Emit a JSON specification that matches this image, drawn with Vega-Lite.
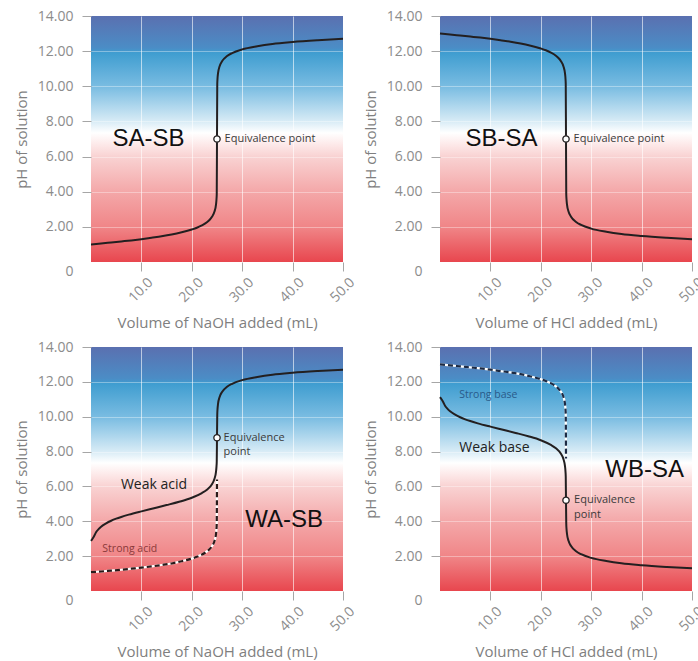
{
"$schema": "https://vega.github.io/schema/vega-lite/v6.json",
"padding": {"left": 14, "top": 9, "right": 0, "bottom": 0},
"background": "white",
"config": {
  "view": {"stroke": null, "fill": {"gradient": "linear", "x1": 0, "y1": 0, "x2": 0, "y2": 1, "stops": [
    {"offset": 0, "color": "#5a70b0"},
    {"offset": 0.13, "color": "#4b8dc6"},
    {"offset": 0.15, "color": "#3f9dd0"},
    {"offset": 0.29, "color": "#7bbde2"},
    {"offset": 0.43, "color": "#d9ecf6"},
    {"offset": 0.475, "color": "#ffffff"},
    {"offset": 0.52, "color": "#fdeaea"},
    {"offset": 0.57, "color": "#f9d3d3"},
    {"offset": 0.71, "color": "#f4a9aa"},
    {"offset": 0.86, "color": "#f08587"},
    {"offset": 1, "color": "#e8464e"}]}},
  "axis": {"labelFont": "Open Sans", "titleFont": "Open Sans", "labelColor": "#8c8c8c", "titleColor": "#7f7f7f", "labelFontSize": 14, "titleFontSize": 15, "titleFontWeight": "normal", "domain": false, "tickColor": "#a6a6a6", "tickSize": 9, "grid": true, "gridColor": "#ffffff", "gridOpacity": 0.6, "gridWidth": 1},
  "axisX": {"format": ".1f", "labelAngle": -45, "labelAlign": "right", "labelBaseline": "middle", "labelOffset": 9, "labelPadding": 9, "titlePadding": 11},
  "axisY": {"labelPadding": 9, "titlePadding": 8}
},
"datasets": {
  "sa": [
    {"V": 0, "pH": 1.00}, {"V": 2, "pH": 1.05}, {"V": 4, "pH": 1.11}, {"V": 6, "pH": 1.17}, {"V": 8, "pH": 1.23},
    {"V": 10, "pH": 1.30}, {"V": 12, "pH": 1.38}, {"V": 14, "pH": 1.46}, {"V": 16, "pH": 1.56}, {"V": 18, "pH": 1.69},
    {"V": 20, "pH": 1.85}, {"V": 21, "pH": 1.95}, {"V": 22, "pH": 2.08}, {"V": 23, "pH": 2.26}, {"V": 23.5, "pH": 2.39},
    {"V": 24, "pH": 2.57}, {"V": 24.5, "pH": 2.87}, {"V": 24.8, "pH": 3.27}, {"V": 24.9, "pH": 3.57}, {"V": 24.95, "pH": 3.87},
    {"V": 25, "pH": 7.00}, {"V": 25.05, "pH": 10.13}, {"V": 25.1, "pH": 10.43}, {"V": 25.2, "pH": 10.73}, {"V": 25.5, "pH": 11.12},
    {"V": 26, "pH": 11.42}, {"V": 27, "pH": 11.72}, {"V": 28, "pH": 11.89}, {"V": 30, "pH": 12.10}, {"V": 33, "pH": 12.28},
    {"V": 36, "pH": 12.41}, {"V": 40, "pH": 12.52}, {"V": 45, "pH": 12.62}, {"V": 50, "pH": 12.70}],
  "sb": [
    {"V": 0, "pH": 13.00}, {"V": 2, "pH": 12.95}, {"V": 4, "pH": 12.89}, {"V": 6, "pH": 12.83}, {"V": 8, "pH": 12.77},
    {"V": 10, "pH": 12.70}, {"V": 12, "pH": 12.62}, {"V": 14, "pH": 12.54}, {"V": 16, "pH": 12.44}, {"V": 18, "pH": 12.31},
    {"V": 20, "pH": 12.15}, {"V": 21, "pH": 12.05}, {"V": 22, "pH": 11.92}, {"V": 23, "pH": 11.74}, {"V": 23.5, "pH": 11.61},
    {"V": 24, "pH": 11.43}, {"V": 24.5, "pH": 11.13}, {"V": 24.8, "pH": 10.73}, {"V": 24.9, "pH": 10.43}, {"V": 24.95, "pH": 10.13},
    {"V": 25, "pH": 7.00}, {"V": 25.05, "pH": 3.87}, {"V": 25.1, "pH": 3.57}, {"V": 25.2, "pH": 3.27}, {"V": 25.5, "pH": 2.88},
    {"V": 26, "pH": 2.58}, {"V": 27, "pH": 2.28}, {"V": 28, "pH": 2.11}, {"V": 30, "pH": 1.90}, {"V": 33, "pH": 1.72},
    {"V": 36, "pH": 1.59}, {"V": 40, "pH": 1.48}, {"V": 45, "pH": 1.38}, {"V": 50, "pH": 1.30}],
  "sad": [
    {"V": 0, "pH": 1.08}, {"V": 2, "pH": 1.12}, {"V": 4, "pH": 1.17}, {"V": 6, "pH": 1.22}, {"V": 8, "pH": 1.28},
    {"V": 10, "pH": 1.34}, {"V": 12, "pH": 1.41}, {"V": 14, "pH": 1.49}, {"V": 16, "pH": 1.58}, {"V": 18, "pH": 1.71},
    {"V": 20, "pH": 1.86}, {"V": 21, "pH": 1.96}, {"V": 22, "pH": 2.09}, {"V": 23, "pH": 2.27}, {"V": 23.5, "pH": 2.40},
    {"V": 24, "pH": 2.57}, {"V": 24.5, "pH": 2.87}, {"V": 24.8, "pH": 3.27}, {"V": 24.9, "pH": 3.57}, {"V": 24.95, "pH": 3.87},
    {"V": 25, "pH": 6.40}],
  "wa": [
    {"V": 0, "pH": 2.88}, {"V": 0.3, "pH": 3.00}, {"V": 0.6, "pH": 3.14}, {"V": 1, "pH": 3.37}, {"V": 1.5, "pH": 3.55},
    {"V": 2, "pH": 3.69}, {"V": 3, "pH": 3.88}, {"V": 4, "pH": 4.03}, {"V": 5, "pH": 4.15}, {"V": 6, "pH": 4.25},
    {"V": 7.5, "pH": 4.38}, {"V": 10, "pH": 4.57}, {"V": 12.5, "pH": 4.75}, {"V": 15, "pH": 4.93}, {"V": 17.5, "pH": 5.12},
    {"V": 20, "pH": 5.35}, {"V": 22, "pH": 5.62}, {"V": 23, "pH": 5.81}, {"V": 24, "pH": 6.13}, {"V": 24.5, "pH": 6.44},
    {"V": 24.8, "pH": 6.84}, {"V": 24.9, "pH": 7.15}, {"V": 24.95, "pH": 7.45}, {"V": 25, "pH": 8.79}, {"V": 25.05, "pH": 10.13},
    {"V": 25.1, "pH": 10.43}, {"V": 25.2, "pH": 10.73}, {"V": 25.5, "pH": 11.12}, {"V": 26, "pH": 11.42}, {"V": 27, "pH": 11.72},
    {"V": 28, "pH": 11.89}, {"V": 30, "pH": 12.10}, {"V": 33, "pH": 12.28}, {"V": 36, "pH": 12.41}, {"V": 40, "pH": 12.52},
    {"V": 45, "pH": 12.62}, {"V": 50, "pH": 12.70}],
  "sbd": [
    {"V": 0, "pH": 13.00}, {"V": 2, "pH": 12.95}, {"V": 4, "pH": 12.89}, {"V": 6, "pH": 12.83}, {"V": 8, "pH": 12.77},
    {"V": 10, "pH": 12.70}, {"V": 12, "pH": 12.62}, {"V": 14, "pH": 12.54}, {"V": 16, "pH": 12.44}, {"V": 18, "pH": 12.31},
    {"V": 20, "pH": 12.15}, {"V": 21, "pH": 12.05}, {"V": 22, "pH": 11.92}, {"V": 23, "pH": 11.74}, {"V": 23.5, "pH": 11.61},
    {"V": 24, "pH": 11.43}, {"V": 24.5, "pH": 11.13}, {"V": 24.8, "pH": 10.73}, {"V": 24.9, "pH": 10.43}, {"V": 24.95, "pH": 10.13},
    {"V": 25, "pH": 7.60}],
  "wb": [
    {"V": 0, "pH": 11.12}, {"V": 0.3, "pH": 11.00}, {"V": 0.6, "pH": 10.86}, {"V": 1, "pH": 10.63}, {"V": 1.5, "pH": 10.45},
    {"V": 2, "pH": 10.31}, {"V": 3, "pH": 10.12}, {"V": 4, "pH": 9.97}, {"V": 5, "pH": 9.85}, {"V": 6, "pH": 9.75},
    {"V": 7.5, "pH": 9.62}, {"V": 10, "pH": 9.43}, {"V": 12.5, "pH": 9.25}, {"V": 15, "pH": 9.07}, {"V": 17.5, "pH": 8.88},
    {"V": 20, "pH": 8.65}, {"V": 22, "pH": 8.38}, {"V": 23, "pH": 8.19}, {"V": 24, "pH": 7.87}, {"V": 24.5, "pH": 7.56},
    {"V": 24.8, "pH": 7.16}, {"V": 24.9, "pH": 6.85}, {"V": 24.95, "pH": 6.55}, {"V": 25, "pH": 5.21}, {"V": 25.05, "pH": 3.87},
    {"V": 25.1, "pH": 3.57}, {"V": 25.2, "pH": 3.27}, {"V": 25.5, "pH": 2.88}, {"V": 26, "pH": 2.58}, {"V": 27, "pH": 2.28},
    {"V": 28, "pH": 2.11}, {"V": 30, "pH": 1.90}, {"V": 33, "pH": 1.72}, {"V": 36, "pH": 1.59}, {"V": 40, "pH": 1.48},
    {"V": 45, "pH": 1.38}, {"V": 50, "pH": 1.30}]
},
"spacing": 9,
"vconcat": [
  {"spacing": 6, "hconcat": [
    {"width": 252, "height": 246,
     "encoding": {
       "x": {"field": "V", "type": "quantitative", "scale": {"domain": [0, 50], "nice": false, "zero": false}, "axis": {"title": "Volume of NaOH added (mL)", "values": [10, 20, 30, 40, 50]}},
       "y": {"field": "pH", "type": "quantitative", "scale": {"domain": [0, 14], "nice": false}, "axis": {"title": "pH of solution", "values": [0, 2, 4, 6, 8, 10, 12, 14], "labelExpr": "datum.value == 0 ? '0' : format(datum.value, '.2f')", "labelOffset": {"condition": {"test": "datum.value == 0", "value": 9}, "value": 0}, "tickOpacity": {"condition": {"test": "datum.value == 0", "value": 0}, "value": 1}, "gridOpacity": {"condition": {"test": "datum.value == 0 || datum.value == 14", "value": 0}, "value": 0.6}}}
     },
     "layer": [
       {"data": {"name": "sa"}, "mark": {"type": "line", "color": "#231f20", "strokeWidth": 2, "interpolate": "monotone"}},
       {"data": {"values": [{"V": 25, "pH": 7}]}, "mark": {"type": "circle", "fill": "#ffffff", "stroke": "#231f20", "strokeWidth": 1.3, "size": 40, "opacity": 1}},
       {"data": {"values": [{"V": 26.5, "pH": 7, "t": "Equivalence point"}]}, "mark": {"type": "text", "align": "left", "baseline": "middle", "font": "Open Sans", "fontSize": 11, "color": "#3a3a3a"}, "encoding": {"text": {"field": "t"}}},
       {"data": {"values": [{"V": 11.4, "pH": 7, "t": "SA-SB"}]}, "mark": {"type": "text", "align": "center", "baseline": "middle", "font": "Liberation Sans", "fontSize": 24, "color": "#111111"}, "encoding": {"text": {"field": "t"}}}
     ]},
    {"width": 252, "height": 246,
     "encoding": {
       "x": {"field": "V", "type": "quantitative", "scale": {"domain": [0, 50], "nice": false, "zero": false}, "axis": {"title": "Volume of HCl added (mL)", "values": [10, 20, 30, 40, 50]}},
       "y": {"field": "pH", "type": "quantitative", "scale": {"domain": [0, 14], "nice": false}, "axis": {"title": "pH of solution", "values": [0, 2, 4, 6, 8, 10, 12, 14], "labelExpr": "datum.value == 0 ? '0' : format(datum.value, '.2f')", "labelOffset": {"condition": {"test": "datum.value == 0", "value": 9}, "value": 0}, "tickOpacity": {"condition": {"test": "datum.value == 0", "value": 0}, "value": 1}, "gridOpacity": {"condition": {"test": "datum.value == 0 || datum.value == 14", "value": 0}, "value": 0.6}}}
     },
     "layer": [
       {"data": {"name": "sb"}, "mark": {"type": "line", "color": "#231f20", "strokeWidth": 2, "interpolate": "monotone"}},
       {"data": {"values": [{"V": 25, "pH": 7}]}, "mark": {"type": "circle", "fill": "#ffffff", "stroke": "#231f20", "strokeWidth": 1.3, "size": 40, "opacity": 1}},
       {"data": {"values": [{"V": 26.5, "pH": 7, "t": "Equivalence point"}]}, "mark": {"type": "text", "align": "left", "baseline": "middle", "font": "Open Sans", "fontSize": 11, "color": "#3a3a3a"}, "encoding": {"text": {"field": "t"}}},
       {"data": {"values": [{"V": 12.2, "pH": 7, "t": "SB-SA"}]}, "mark": {"type": "text", "align": "center", "baseline": "middle", "font": "Liberation Sans", "fontSize": 24, "color": "#111111"}, "encoding": {"text": {"field": "t"}}}
     ]}
  ]},
  {"spacing": 6, "hconcat": [
    {"width": 252, "height": 244,
     "encoding": {
       "x": {"field": "V", "type": "quantitative", "scale": {"domain": [0, 50], "nice": false, "zero": false}, "axis": {"title": "Volume of NaOH added (mL)", "values": [10, 20, 30, 40, 50]}},
       "y": {"field": "pH", "type": "quantitative", "scale": {"domain": [0, 14], "nice": false}, "axis": {"title": "pH of solution", "values": [0, 2, 4, 6, 8, 10, 12, 14], "labelExpr": "datum.value == 0 ? '0' : format(datum.value, '.2f')", "labelOffset": {"condition": {"test": "datum.value == 0", "value": 9}, "value": 0}, "tickOpacity": {"condition": {"test": "datum.value == 0", "value": 0}, "value": 1}, "gridOpacity": {"condition": {"test": "datum.value == 0 || datum.value == 14", "value": 0}, "value": 0.6}}}
     },
     "layer": [
       {"data": {"name": "sad"}, "mark": {"type": "line", "color": "#ffffff", "strokeWidth": 2.2, "interpolate": "monotone"}},
       {"data": {"name": "sad"}, "mark": {"type": "line", "color": "#2a1a1a", "strokeWidth": 2.2, "strokeDash": [5, 3], "interpolate": "monotone"}},
       {"data": {"name": "wa"}, "mark": {"type": "line", "color": "#231f20", "strokeWidth": 2, "interpolate": "monotone"}},
       {"data": {"values": [{"V": 25, "pH": 8.79}]}, "mark": {"type": "circle", "fill": "#ffffff", "stroke": "#231f20", "strokeWidth": 1.3, "size": 40, "opacity": 1}},
       {"data": {"values": [{"V": 26.3, "pH": 8.79, "t": "Equivalence"}, {"V": 26.3, "pH": 7.95, "t": "point"}]}, "mark": {"type": "text", "align": "left", "baseline": "middle", "font": "Open Sans", "fontSize": 11, "color": "#3a3a3a"}, "encoding": {"text": {"field": "t"}}},
       {"data": {"values": [{"V": 12.5, "pH": 6.1, "t": "Weak acid"}]}, "mark": {"type": "text", "align": "center", "baseline": "middle", "font": "Open Sans", "fontSize": 14, "color": "#222222"}, "encoding": {"text": {"field": "t"}}},
       {"data": {"values": [{"V": 7.7, "pH": 2.4, "t": "Strong acid"}]}, "mark": {"type": "text", "align": "center", "baseline": "middle", "font": "Open Sans", "fontSize": 10.5, "color": "#8a3a3a"}, "encoding": {"text": {"field": "t"}}},
       {"data": {"values": [{"V": 38.3, "pH": 4.08, "t": "WA-SB"}]}, "mark": {"type": "text", "align": "center", "baseline": "middle", "font": "Liberation Sans", "fontSize": 24, "color": "#111111"}, "encoding": {"text": {"field": "t"}}}
     ]},
    {"width": 252, "height": 244,
     "encoding": {
       "x": {"field": "V", "type": "quantitative", "scale": {"domain": [0, 50], "nice": false, "zero": false}, "axis": {"title": "Volume of HCl added (mL)", "values": [10, 20, 30, 40, 50]}},
       "y": {"field": "pH", "type": "quantitative", "scale": {"domain": [0, 14], "nice": false}, "axis": {"title": "pH of solution", "values": [0, 2, 4, 6, 8, 10, 12, 14], "labelExpr": "datum.value == 0 ? '0' : format(datum.value, '.2f')", "labelOffset": {"condition": {"test": "datum.value == 0", "value": 9}, "value": 0}, "tickOpacity": {"condition": {"test": "datum.value == 0", "value": 0}, "value": 1}, "gridOpacity": {"condition": {"test": "datum.value == 0 || datum.value == 14", "value": 0}, "value": 0.6}}}
     },
     "layer": [
       {"data": {"name": "sbd"}, "mark": {"type": "line", "color": "#ffffff", "strokeWidth": 2.2, "interpolate": "monotone"}},
       {"data": {"name": "sbd"}, "mark": {"type": "line", "color": "#1c2a44", "strokeWidth": 2.2, "strokeDash": [5, 3], "interpolate": "monotone"}},
       {"data": {"name": "wb"}, "mark": {"type": "line", "color": "#231f20", "strokeWidth": 2, "interpolate": "monotone"}},
       {"data": {"values": [{"V": 25, "pH": 5.21}]}, "mark": {"type": "circle", "fill": "#ffffff", "stroke": "#231f20", "strokeWidth": 1.3, "size": 40, "opacity": 1}},
       {"data": {"values": [{"V": 26.6, "pH": 5.22, "t": "Equivalence"}, {"V": 26.6, "pH": 4.36, "t": "point"}]}, "mark": {"type": "text", "align": "left", "baseline": "middle", "font": "Open Sans", "fontSize": 11, "color": "#3a3a3a"}, "encoding": {"text": {"field": "t"}}},
       {"data": {"values": [{"V": 10.8, "pH": 8.19, "t": "Weak base"}]}, "mark": {"type": "text", "align": "center", "baseline": "middle", "font": "Open Sans", "fontSize": 14, "color": "#222222"}, "encoding": {"text": {"field": "t"}}},
       {"data": {"values": [{"V": 9.6, "pH": 11.25, "t": "Strong base"}]}, "mark": {"type": "text", "align": "center", "baseline": "middle", "font": "Open Sans", "fontSize": 10.5, "color": "#2a5a8a"}, "encoding": {"text": {"field": "t"}}},
       {"data": {"values": [{"V": 40.6, "pH": 6.93, "t": "WB-SA"}]}, "mark": {"type": "text", "align": "center", "baseline": "middle", "font": "Liberation Sans", "fontSize": 24, "color": "#111111"}, "encoding": {"text": {"field": "t"}}}
     ]}
  ]}
]
}
